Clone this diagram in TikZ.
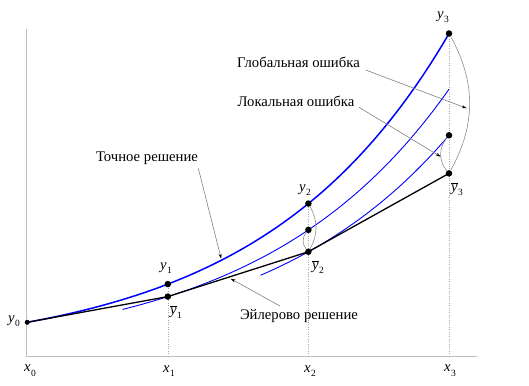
\documentclass[tikz,border=0pt]{standalone}
\usepackage{fontspec}
\setmainfont{Liberation Serif}
\usetikzlibrary{arrows.meta}
\newcommand\lbly[1]{\textit{y}\kern0.3pt\raisebox{-0.55ex}{\fontsize{9.5}{9.5}\selectfont #1}}
\newcommand\lblyb[1]{$\overline{\mbox{\textit{y}}}$\kern0.3pt\raisebox{-0.55ex}{\fontsize{9.5}{9.5}\selectfont #1}}
\newcommand\lblx[1]{\textit{x}\kern0.3pt\raisebox{-0.7ex}{\fontsize{9.5}{9.5}\selectfont #1}}
\begin{document}
\begin{tikzpicture}[x=1pt,y=1pt,
  axis/.style={draw=black!25, line width=1pt},
  guide/.style={draw=black!35, dash pattern=on 1pt off 1.4pt, line width=0.5pt},
  exact/.style={draw=blue, line width=1.5pt},
  localsol/.style={draw=blue, line width=0.9pt},
  euler/.style={draw=black, line width=1.3pt},
  dot/.style={circle, fill=black, inner sep=0pt, minimum size=6.5pt},
  errarc/.style={draw=black!45, line width=0.6pt},
  pointer/.style={draw=black!50, line width=0.6pt, -{Stealth[length=5pt,width=3pt,color=black]}},
  lbl/.style={font=\fontsize{14.7}{17}\selectfont, inner sep=0pt},
]
\useasboundingbox (-26.7,-28.3) rectangle (502.3,356.7);
% axes
\coordinate (O) at (0,0);
\coordinate (yend) at (0,327.4);
\coordinate (xend) at (450,0);
\draw[axis] (yend) -- (O) -- (xend);
% key points
\coordinate (p0) at (0.5,34.4);
\coordinate (p1) at (141.1,72.58);
\coordinate (q1) at (141.1,60.09);
\coordinate (p2) at (281.7,153.15);
\coordinate (m2) at (281.7,126.8);
\coordinate (q2) at (281.7,104.95);
\coordinate (p3) at (422.3,323.2);
\coordinate (m3) at (422.3,221.4);
\coordinate (q3) at (422.3,183.3);
\coordinate (f1) at (141.1,0);
\coordinate (f2) at (281.7,0);
\coordinate (f3) at (422.3,0);
% guides
\draw[guide] (f1) -- (p1);
\draw[guide] (f2) -- (p2);
\draw[guide] (f3) -- (p3);
% solution curves
\draw[exact] plot[domain=0:3, samples=90] ({0.5+140.6*\x},{34.4*pow(2.11,\x)});
\draw[localsol] plot[domain=0.678:3, samples=80] ({0.5+140.6*\x},{60.09*pow(2.11,\x-1)});
\draw[localsol] plot[domain=1.66:3, samples=60] ({0.5+140.6*\x},{104.95*pow(2.11,\x-2)});
% Euler polyline
\draw[euler] (p0) -- (q1) -- (q2) -- (q3);
% dots
\node[dot, minimum size=5pt] (Y0) at (p0) {};
\node[dot] (Y1) at (p1) {};
\node[dot] (Yb1) at (q1) {};
\node[dot] (Y2) at (p2) {};
\node[dot] (M2) at (m2) {};
\node[dot] (Yb2) at (q2) {};
\node[dot] (Y3) at (p3) {};
\node[dot] (M3) at (m3) {};
\node[dot] (Yb3) at (q3) {};
% error arcs
\draw[errarc] (Y3) to[bend left=29] (Yb3);
\draw[errarc] (M3) to[bend right=40] (Yb3);
\draw[errarc] (Y2) to[bend left=29] (Yb2);
\draw[errarc] (M2) to[bend right=40] (Yb2);
% text labels
\node[lbl] (tG) at (271.8,294.7) {Глобальная ошибка};
\node[lbl] (tL) at (269.3,255.7) {Локальная ошибка};
\node[lbl] (tT) at (120.3,198.7) {Точное решение};
\node[lbl] (tE) at (272.3,40.7) {Эйлерово решение};
% pointers
\coordinate (gs) at (339,286.7);
\coordinate (gt) at (440,248.4);
\coordinate (ls) at (332.3,249.4);
\coordinate (lt) at (414,200);
\coordinate (ts) at (171.6,188.4);
\coordinate (tt) at (194.5,98);
\coordinate (es) at (253.3,50.7);
\coordinate (et) at (204,78);
\draw[pointer] (gs) -- (gt);
\draw[pointer] (ls) -- (lt);
\draw[pointer] (ts) -- (tt);
\draw[pointer] (es) -- (et);
% point labels
\node[lbl] (lY0) at (-12.7,35.7) {\lbly{0}};
\node[lbl] (lY1) at (139.3,88.7) {\lbly{1}};
\node[lbl] (lYb1) at (149.3,44.7) {\lblyb{1}};
\node[lbl] (lY2) at (278.3,166.7) {\lbly{2}};
\node[lbl] (lYb2) at (291.3,89.7) {\lblyb{2}};
\node[lbl] (lY3) at (416.3,339.7) {\lbly{3}};
\node[lbl] (lYb3) at (430.3,167.7) {\lblyb{3}};
\node[lbl] (lX0) at (3.3,-14.3) {\lblx{0}};
\node[lbl] (lX1) at (142.3,-14.3) {\lblx{1}};
\node[lbl] (lX2) at (283.3,-14.3) {\lblx{2}};
\node[lbl] (lX3) at (423.3,-14.3) {\lblx{3}};
\end{tikzpicture}
\end{document}
